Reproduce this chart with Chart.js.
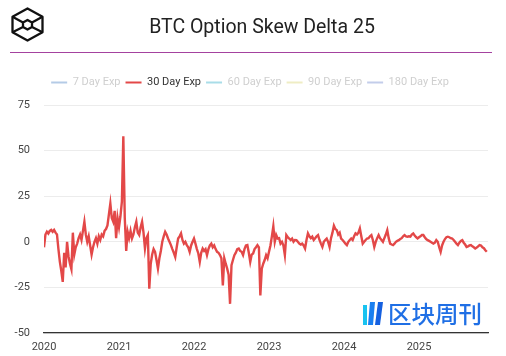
<!DOCTYPE html>
<html>
<head>
<meta charset="utf-8">
<script src="https://cdn.jsdelivr.net/npm/chart.js@4.4.1/dist/chart.umd.min.js"></script>
<style>
  html, body { margin: 0; padding: 0; background: #fff; }
  #wrap { position: relative; width: 506px; height: 356px; overflow: hidden; background: #fff; }
  #c { position: absolute; left: 0; top: 0; }
  #title { position: absolute; left: 0; top: 15px; width: 524px; text-align: center; font-family: Roboto, sans-serif; font-size: 19.5px; line-height: 24px; color: #222; }
  #rule { position: absolute; left: 10px; top: 52px; width: 482px; height: 0; border-top: 1.3px solid #a4429f; }
  #logo { position: absolute; left: 11px; top: 7px; }
  #wm { position: absolute; left: 362px; top: 298px; height: 30px; display: flex; align-items: center; }
  #wm span { font-family: "Noto Sans CJK SC", sans-serif; font-size: 23.5px; font-weight: 500; color: #1f6fe5; margin-left: 4px; line-height: 30px; letter-spacing: 0px; }
</style>
</head>
<body>
<div id="wrap">
  <canvas id="c" width="506" height="356" style="width:506px;height:356px"></canvas>
  <svg id="logo" width="33" height="35" viewBox="0 0 33 35">
    <g fill="none" stroke="#111" stroke-width="2.3" stroke-linejoin="round">
      <polygon points="16.5,1.5 31.5,9.8 31.5,25.2 16.5,33.5 1.5,25.2 1.5,9.8"/>
      <polygon points="16.5,13 21,15.5 21,20 16.5,22.5 12,20 12,15.5"/>
      <line x1="1.5" y1="9.8" x2="12" y2="15.5"/>
      <line x1="31.5" y1="9.8" x2="21" y2="15.5"/>
      <line x1="1.5" y1="25.2" x2="12" y2="20"/>
      <line x1="31.5" y1="25.2" x2="21" y2="20"/>
    </g>
  </svg>
  <div id="title">BTC Option Skew Delta 25</div>
  <div id="rule"></div>
  <div id="wm">
    <svg width="22" height="27" viewBox="0 0 22 27">
      <polygon points="1,5 5,5 5,25 1,25" fill="#19c3f0"/>
      <polygon points="8,2 13,2 11,25 6,25" fill="#1a7ff0"/>
      <polygon points="16,2 21,2 18,25 13,25" fill="#1560e0"/>
    </svg>
    <span>区块周刊</span>
  </div>
</div>
<script>
// ---- data ----
const startYear = 2020;          // first weekly sample
const samplesPerYear = 52;       // weekly samples
const seriesLabels = ["7 Day Exp", "30 Day Exp", "60 Day Exp", "90 Day Exp", "180 Day Exp"];
const yearTicks = [2020, 2021, 2022, 2023, 2024, 2025];
const yTicks = [-50, -25, 0, 25, 50, 75];

// 30 Day Exp skew, one value per week from Jan 2020
const skew30 = [
  // 2020
  -3, 4, 5.5, 4.5, 6, 6.5, 5.5, 6.5, 5, 4, -4, -11, -16, -22, -6, -14, 0, -8, -12, -15,
  5, -7, -3, -1, 2, 4, 1, 6, 11, 4, 0, 3, -2, -7, -3, 0, 2, -1, 3, 1,
  4, 3, 6, 7, 9, 15, 21, 13, 11, 17, 2, 13,
  // 2021
  8, 14, 22, 57.8, 13, -5, 5.5, 2, 6, 1.8, 4, 8, 11, 5, 3.7, 8, 11, 5, -3.7, 2,
  3.7, -25.7, -12, -7, -4, -5.5, -10, -14.7, -9, -5, 0, 3, 5.5, 4, 1.8, 0, -1.8, -4, -6, -8.3,
  -3, 1.8, 3, 4.6, 1, -1, 0, -1.8, -3, -5.5, -2, 0,
  // 2022
  1.8, -1, -4, -6.4, -11, -6, -3.7, -5, -4, -7.3, -4, -2, -1, -3, -2, -4, -5.5, -6, -7.3, -9,
  -23.9, -9, -12, -14.7, -18, -34, -12.8, -10, -7.3, -6, -4, -3.7, -5, -5.5, -7.3, -4, -2, -1.8, -6, -11,
  -7, -6.4, -4, -3, -1.8, -3, -29.4, -14.7, -12, -10, -7.3, -9,
  // 2023
  -5.5, -2, 3, 8.5, 0, 3.7, 1.8, 2, -1, 0, -2, -7.3, 3.7, 2.5, 1.8, 1, 1.8, 0, 1, 0.9,
  0, -1, -1.5, -1, -2, -3.7, 1, 4.6, 3, 2, 2.8, 1, 2, 3, 3.7, 1, -1, -2.8, 0, 1,
  1.8, 0, -2.8, 2, 5, 8.8, 7, 6.4, 4, 5, 1.8, 1,
  // 2024
  0, -1, -1.8, 0, 1, 1.8, 1, 3, 4.6, 4, 5, 7.3, 3, -1, 0, 1, 1.8, 2, 3, 3.7,
  1, -2.8, 0, 2, 3.7, 2, 1, 0, 2, 4, 6.4, 2, -1, -1.5, -1.8, -1, 0, 0.5, 0.9, 1.5,
  2, 3, 3.7, 3, 2.8, 3, 2.8, 4, 4.6, 3.5, 2.5, 1.8,
  // 2025
  2.5, 3, 3.7, 3.7, 2.5, 1.5, 0.9, 0.5, 0, -0.5, -1, -0.5, 0.9, 0, -3, -5.5, -2, 0, 1.5, 2.5,
  2.8, 2.5, 2, 1.8, 1, 0, -1, -1.8, -0.5, 0.5, 0.9, -0.5, -1.5, -2.8, -2.5, -2, -1.8, -2.5, -3, -3.7,
  -3.2, -2.5, -1.8, -2, -3, -3.5, -4.6, -5.5
];

// ---- styles ----
const lineColors = ["#b4cbe6", "#e34848", "#a9dde8", "#efedc4", "#c3cdea"];
const legendTextColors = ["#cfcfcf", "#333333", "#cfcfcf", "#cfcfcf", "#cfcfcf"];

const points30 = skew30.map((v, i) => ({ x: startYear + i / samplesPerYear, y: v }));

const datasets = seriesLabels.map((label, i) => ({
  label,
  data: i === 1 ? points30 : [],
  borderColor: lineColors[i],
  backgroundColor: lineColors[i],
  borderWidth: 2.4,
  pointRadius: 0,
  tension: 0
}));

const legendSpacer = {
  id: 'legendSpacer',
  afterInit(chart) {
    const lg = chart.legend;
    if (!lg) return;
    const fit = lg.fit;
    lg.fit = function () { fit.call(this); this.height += 7; };
  }
};

new Chart(document.getElementById('c'), {
  type: 'line',
  data: { datasets },
  plugins: [legendSpacer],
  options: {
    responsive: false,
    animation: false,
    layout: { padding: { top: 72, right: 18, bottom: 0, left: 12 } },
    plugins: {
      title: { display: false },
      tooltip: { enabled: false },
      legend: {
        display: true,
        position: 'top',
        onClick: null,
        labels: {
          boxWidth: 16,
          boxHeight: 2,
          padding: 5,
          font: { family: 'Roboto', size: 11 },
          generateLabels: (chart) => chart.data.datasets.map((ds, i) => ({
            text: ds.label,
            fillStyle: ds.borderColor,
            strokeStyle: ds.borderColor,
            lineWidth: 0,
            fontColor: legendTextColors[i],
            hidden: false,
            datasetIndex: i
          }))
        }
      }
    },
    scales: {
      x: {
        type: 'linear',
        min: 2020,
        max: 2025.92,
        afterFit: (s) => { s.height = 23; },
        afterBuildTicks: (s) => { s.ticks = yearTicks.map(v => ({ value: v })); },
        grid: { display: false, drawTicks: false },
        border: { display: true, color: '#333', width: 1.2 },
        ticks: {
          padding: 8,
          maxRotation: 0,
          autoSkip: false,
          color: '#444',
          font: { family: 'Roboto', size: 11 },
          callback: (v) => String(v)
        }
      },
      y: {
        min: -50,
        max: 75,
        afterFit: (s) => { s.width = 32; },
        afterBuildTicks: (s) => { s.ticks = yTicks.map(v => ({ value: v })); },
        grid: { color: '#ececec', drawTicks: false, lineWidth: 1 },
        border: { display: false },
        ticks: {
          padding: 14,
          color: '#444',
          font: { family: 'Roboto', size: 11 }
        }
      }
    }
  }
});
</script>
</body>
</html>
